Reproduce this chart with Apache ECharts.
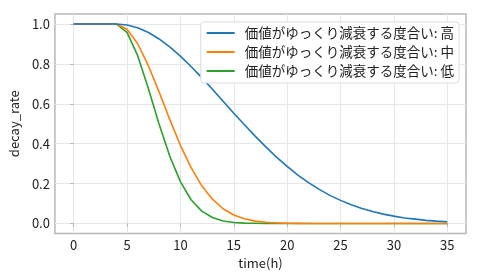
<!DOCTYPE html>
<html>
<head>
<meta charset="utf-8">
<script src="https://cdn.jsdelivr.net/npm/echarts@6/dist/echarts.min.js"></script>
<style>html,body{margin:0;padding:0;background:#fff}#c{width:480px;height:280px}</style>
</head>
<body>
<div id="c"></div>
<script>
const times = [0,1,2,3,4,5,6,7,8,9,10,11,12,13,14,15,16,17,18,19,20,21,22,23,24,25,26,27,28,29,30,31,32,33,34,35];
const seriesNames = ['価値がゆっくり減衰する度合い: 高','価値がゆっくり減衰する度合い: 中','価値がゆっくり減衰する度合い: 低'];
const high = [1,1,1,1,1,0.995,0.981,0.957,0.925,0.885,0.839,0.787,0.731,0.673,0.613,0.553,0.495,0.438,0.384,0.333,0.286,0.243,0.205,0.171,0.141,0.116,0.094,0.075,0.060,0.047,0.037,0.028,0.022,0.016,0.012,0.009];
const mid = [1,1,1,1,1,0.974,0.901,0.791,0.660,0.522,0.392,0.280,0.189,0.122,0.074,0.043,0.024,0.012,0.006,0.003,0.001,0.0005,0,0,0,0,0,0,0,0,0,0,0,0,0,0];
const low = [1,1,1,1,1,0.958,0.841,0.677,0.499,0.338,0.210,0.119,0.062,0.030,0.013,0.005,0.002,0.001,0,0,0,0,0,0,0,0,0,0,0,0,0,0,0,0,0,0];
const xTicks = [0,5,10,15,20,25,30,35];
const yTicks = [0,0.2,0.4,0.6,0.8,1.0];
const colors = ['#1f77b4','#ff7f0e','#2ca02c'];
const F = '"Noto Sans CJK JP", "DejaVu Sans", sans-serif';

const chart = echarts.init(document.getElementById('c'), null, {renderer:'canvas'});
const vals = [high, mid, low];
chart.setOption({
  animation: false,
  textStyle: {fontFamily: F},
  grid: {left: 54, right: 14, top: 14, bottom: 46.5, show: true, borderColor: '#b8b8b8', borderWidth: 1.5, containLabel: false},
  legend: {
    orient: 'vertical', right: 21, top: 22,
    data: seriesNames,
    icon: 'rect', itemWidth: 28, itemHeight: 2, itemGap: 3,
    padding: [3, 5, 4, 6],
    backgroundColor: '#fff', borderColor: '#dcdcdc', borderWidth: 1, borderRadius: 3,
    textStyle: {fontFamily: F, fontSize: 13.5, color: '#222', lineHeight: 16, padding: [0,0,0,5]}
  },
  xAxis: {
    type: 'value', min: -1.75, max: 36.75,
    name: 'time(h)', nameLocation: 'middle', nameGap: 20,
    nameTextStyle: {fontFamily: F, fontSize: 13, color: '#222'},
    axisLine: {show: false},
    axisTick: {show: true, length: 3.5, lineStyle: {color: '#b8b8b8'}, customValues: xTicks},
    axisLabel: {customValues: xTicks, fontFamily: F, fontSize: 13, color: '#222', margin: 5, formatter: v => String(v)},
    splitLine: {show: true, lineStyle: {color: '#e6e6e6', width: 1}, customValues: xTicks}
  },
  yAxis: {
    type: 'value', min: -0.05, max: 1.05,
    name: 'decay_rate', nameLocation: 'middle', nameGap: 29,
    nameTextStyle: {fontFamily: F, fontSize: 13, color: '#222'},
    axisLine: {show: false},
    axisTick: {show: true, length: 3.5, lineStyle: {color: '#b8b8b8'}, customValues: yTicks},
    axisLabel: {customValues: yTicks, fontFamily: F, fontSize: 13, color: '#222', margin: 5, formatter: v => v.toFixed(1)},
    splitLine: {show: true, lineStyle: {color: '#e6e6e6', width: 1}, customValues: yTicks}
  },
  series: seriesNames.map((n, i) => ({
    name: n, type: 'line', showSymbol: false, symbol: 'none',
    data: times.map((t, j) => [t, vals[i][j]]),
    lineStyle: {color: colors[i], width: 1.6},
    itemStyle: {color: colors[i]},
    z: 3 - i
  }))
});
</script>
</body>
</html>
